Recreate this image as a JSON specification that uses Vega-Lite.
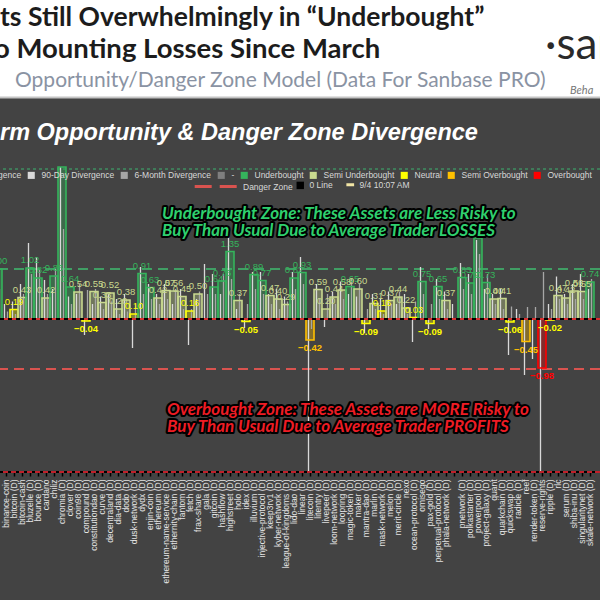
{
  "$schema": "https://vega.github.io/schema/vega-lite/v6.json",
  "width": 600,
  "height": 502,
  "autosize": {"type": "none"},
  "padding": {"top": 98, "left": 0, "right": 0, "bottom": 0},
  "background": "#ffffff",
  "config": {"view": {"fill": "#434343", "stroke": null}, "text": {"font": "Liberation Sans"}},
  "datasets": {
    "assets": [
      {"asset": "-", "v30": 1.00, "zone": "Underbought", "d90": 1.2, "m6": 0.6},
      {"asset": "binance-coin", "v30": null, "zone": null, "d90": 0.3, "m6": 0.15},
      {"asset": "bitcoin (D)", "v30": 0.19, "zone": "Neutral", "d90": 0.35, "m6": 0.1},
      {"asset": "bitcoin-cash", "v30": 0.43, "zone": "Semi Underbought", "d90": 0.7, "m6": 0.5},
      {"asset": "bluzelle (D)", "v30": 1.02, "zone": "Underbought", "d90": 1.52, "m6": 0.9},
      {"asset": "bounce (D)", "v30": 0.82, "zone": "Underbought", "d90": 1.24, "m6": 0.98},
      {"asset": "cardano", "v30": 0.42, "zone": "Semi Underbought", "d90": 0.78, "m6": 0.5},
      {"asset": "chiliz", "v30": 0.86, "zone": "Underbought", "d90": 0.6, "m6": 1.0},
      {"asset": "chromia (D)", "v30": 3.04, "zone": "Underbought", "d90": 3.04, "m6": 1.8},
      {"asset": "clover (D)", "v30": 0.64, "zone": "Underbought", "d90": 0.45, "m6": 0.3},
      {"asset": "coin98 (D)", "v30": 0.54, "zone": "Semi Underbought", "d90": 0.5, "m6": 0.7},
      {"asset": "compound (D)", "v30": -0.04, "zone": "Neutral", "d90": -0.32, "m6": 0.58},
      {"asset": "constitutiondao (D)", "v30": 0.55, "zone": "Semi Underbought", "d90": 0.3, "m6": 0.6},
      {"asset": "curve (D)", "v30": 0.33, "zone": "Semi Underbought", "d90": 0.45, "m6": 0.2},
      {"asset": "decentraland (D)", "v30": 0.52, "zone": "Semi Underbought", "d90": 0.5, "m6": 0.35},
      {"asset": "dia-data (D)", "v30": 0.20, "zone": "Semi Underbought", "d90": 0.4, "m6": 0.1},
      {"asset": "dodo (D)", "v30": 0.38, "zone": "Semi Underbought", "d90": 0.5, "m6": 0.15},
      {"asset": "dusk-network (D)", "v30": 0.10, "zone": "Neutral", "d90": -0.58, "m6": 0.3},
      {"asset": "dydx (D)", "v30": 0.91, "zone": "Underbought", "d90": 1.04, "m6": 0.5},
      {"asset": "enjin-coin (D)", "v30": 0.63, "zone": "Underbought", "d90": 0.7, "m6": 0.4},
      {"asset": "ethereum (D)", "v30": 0.42, "zone": "Semi Underbought", "d90": 0.5, "m6": 0.3},
      {"asset": "ethereum-name-service (D)", "v30": 0.57, "zone": "Semi Underbought", "d90": 0.7, "m6": 0.4},
      {"asset": "ethernity-chain (D)", "v30": 0.56, "zone": "Semi Underbought", "d90": 0.3, "m6": 0.6},
      {"asset": "fantom (D)", "v30": 0.45, "zone": "Semi Underbought", "d90": 0.6, "m6": 0.2},
      {"asset": "fetch (D)", "v30": 0.16, "zone": "Neutral", "d90": -0.52, "m6": 0.2},
      {"asset": "frax-share (D)", "v30": 0.50, "zone": "Semi Underbought", "d90": 0.4, "m6": 0.55},
      {"asset": "gala (D)", "v30": null, "zone": null, "d90": 1.1, "m6": 0.5},
      {"asset": "gitcoin (D)", "v30": 0.64, "zone": "Underbought", "d90": 0.9, "m6": 0.5},
      {"asset": "hashflow (D)", "v30": 0.76, "zone": "Underbought", "d90": 0.5, "m6": 0.9},
      {"asset": "highstreet (D)", "v30": 1.35, "zone": "Underbought", "d90": 1.84, "m6": 0.8},
      {"asset": "holo (D)", "v30": 0.37, "zone": "Semi Underbought", "d90": 0.2, "m6": 0.5},
      {"asset": "idex (D)", "v30": -0.05, "zone": "Neutral", "d90": -0.18, "m6": 0.3},
      {"asset": "illuvium (D)", "v30": 0.89, "zone": "Underbought", "d90": 0.94, "m6": 0.6},
      {"asset": "injective-protocol (D)", "v30": 0.77, "zone": "Underbought", "d90": 0.94, "m6": 0.5},
      {"asset": "keep3rv1 (D)", "v30": 0.47, "zone": "Semi Underbought", "d90": 0.5, "m6": 0.3},
      {"asset": "kyber-network (D)", "v30": 0.40, "zone": "Semi Underbought", "d90": 0.6, "m6": 0.2},
      {"asset": "league-of-kingdoms (D)", "v30": 0.29, "zone": "Semi Underbought", "d90": 0.45, "m6": 0.35},
      {"asset": "lido-dao (D)", "v30": 0.82, "zone": "Underbought", "d90": 0.94, "m6": 0.6},
      {"asset": "linear (D)", "v30": 0.93, "zone": "Underbought", "d90": 1.24, "m6": 0.7},
      {"asset": "litecoin (D)", "v30": -0.42, "zone": "Semi Overbought", "d90": -3.05, "m6": -0.2},
      {"asset": "litentry (D)", "v30": 0.59, "zone": "Semi Underbought", "d90": 0.7, "m6": 0.4},
      {"asset": "livepeer (D)", "v30": 0.20, "zone": "Semi Underbought", "d90": -0.16, "m6": 0.5},
      {"asset": "loom-network (D)", "v30": 0.44, "zone": "Semi Underbought", "d90": 0.55, "m6": 0.3},
      {"asset": "loopring (D)", "v30": 0.58, "zone": "Semi Underbought", "d90": 0.75, "m6": 0.4},
      {"asset": "magic-token (D)", "v30": 0.65, "zone": "Underbought", "d90": 0.5, "m6": 0.8},
      {"asset": "maker (D)", "v30": 0.60, "zone": "Semi Underbought", "d90": 0.45, "m6": 0.7},
      {"asset": "mantra-dao (D)", "v30": -0.09, "zone": "Neutral", "d90": -0.28, "m6": 0.2},
      {"asset": "marlin (D)", "v30": 0.31, "zone": "Semi Underbought", "d90": 0.5, "m6": 0.2},
      {"asset": "mask-network (D)", "v30": 0.16, "zone": "Neutral", "d90": 0.4, "m6": 0.1},
      {"asset": "melon (D)", "v30": 0.37, "zone": "Semi Underbought", "d90": 0.55, "m6": 0.3},
      {"asset": "merit-circle (D)", "v30": 0.44, "zone": "Semi Underbought", "d90": 0.3, "m6": 0.55},
      {"asset": "nexo", "v30": 0.22, "zone": "Semi Underbought", "d90": 0.5, "m6": 0.1},
      {"asset": "ocean-protocol (D)", "v30": 0.03, "zone": "Neutral", "d90": -0.46, "m6": 0.35},
      {"asset": "omisego", "v30": 0.75, "zone": "Underbought", "d90": 1.04, "m6": 0.5},
      {"asset": "pax-gold (D)", "v30": -0.09, "zone": "Neutral", "d90": -0.2, "m6": 0.3},
      {"asset": "perpetual-protocol (D)", "v30": 0.65, "zone": "Underbought", "d90": 0.8, "m6": 0.4},
      {"asset": "phala-network (D)", "v30": 0.37, "zone": "Semi Underbought", "d90": 0.55, "m6": 0.2},
      {"asset": " ", "v30": null, "zone": null, "d90": 0.3, "m6": null},
      {"asset": "pnetwork (D)", "v30": 0.83, "zone": "Underbought", "d90": 1.12, "m6": 0.6},
      {"asset": "polkastarter (D)", "v30": 0.72, "zone": "Underbought", "d90": 0.9, "m6": 0.5},
      {"asset": "powerpool (D)", "v30": 1.62, "zone": "Underbought", "d90": 1.58, "m6": 1.3},
      {"asset": "project-galaxy (D)", "v30": 0.73, "zone": "Underbought", "d90": 0.6, "m6": 0.9},
      {"asset": "quant", "v30": 0.40, "zone": "Semi Underbought", "d90": 0.5, "m6": 0.3},
      {"asset": "quarkchain (D)", "v30": 0.41, "zone": "Semi Underbought", "d90": 0.6, "m6": 0.2},
      {"asset": "quickswap (D)", "v30": -0.06, "zone": "Neutral", "d90": -0.72, "m6": 0.25},
      {"asset": "radicle (D)", "v30": null, "zone": null, "d90": 0.2, "m6": 0.1},
      {"asset": "reef", "v30": -0.45, "zone": "Semi Overbought", "d90": -1.12, "m6": 0.24},
      {"asset": "render-token (D)", "v30": null, "zone": null, "d90": -0.8, "m6": 0.24},
      {"asset": "reserve-rights", "v30": -0.98, "zone": "Overbought", "d90": -3.05, "m6": 0.94},
      {"asset": "ripple (D)", "v30": -0.02, "zone": "Neutral", "d90": 0.3, "m6": 0.2},
      {"asset": "rlc", "v30": 0.47, "zone": "Semi Underbought", "d90": 0.85, "m6": 0.4},
      {"asset": "serum (D)", "v30": 0.42, "zone": "Semi Underbought", "d90": 0.5, "m6": 0.3},
      {"asset": "shiba-inu (D)", "v30": 0.56, "zone": "Semi Underbought", "d90": 0.7, "m6": 0.4},
      {"asset": "singularitynet (D)", "v30": 0.55, "zone": "Semi Underbought", "d90": 0.9, "m6": 0.4},
      {"asset": "skale-network (D)", "v30": 0.74, "zone": "Underbought", "d90": 0.6, "m6": 0.8}
    ]
  },
  "data": {"name": "assets"},
  "layer": [
    {
      "data": {"values": [{}]},
      "mark": {"type": "rule", "color": "#3cb371", "strokeDash": [3, 3], "strokeWidth": 1},
      "encoding": {"y": {"datum": 3.0, "type": "quantitative", "scale": {"domain": [-5.62, 4.42], "nice": false, "zero": false}, "axis": null}}
    },
    {
      "data": {"values": [{}]},
      "mark": {"type": "rule", "color": "#3fae6a", "strokeDash": [10, 6], "strokeWidth": 2, "opacity": 0.85},
      "encoding": {"y": {"datum": 1.0, "type": "quantitative"}}
    },
    {
      "data": {"values": [{}]},
      "mark": {"type": "rule", "strokeDash": [10, 6], "strokeWidth": 2},
      "encoding": {
        "y": {"datum": -1.0, "type": "quantitative"},
        "stroke": {
          "datum": "Danger Zone",
          "type": "nominal",
          "scale": {"domain": ["Danger Zone"], "range": ["#d9534f"]},
          "legend": {
            "orient": "none", "legendX": 193, "legendY": 65, "direction": "horizontal", "title": null,
            "symbolType": "stroke", "symbolSize": 1900, "symbolStrokeWidth": 3, "symbolDash": [17, 8], "symbolOpacity": 1,
            "labelFontSize": 8.5, "labelColor": "#d8d8d8", "labelFont": "Liberation Sans",
            "labelOffset": 3, "padding": 0
          }
        }
      }
    },
    {
      "transform": [{"filter": "datum.v30 != null"}],
      "mark": {"type": "bar", "fillOpacity": 0.35, "strokeWidth": 0},
      "encoding": {
        "x": {
          "field": "asset", "type": "nominal",
          "scale": {
            "domain": ["-", "binance-coin", "bitcoin (D)", "bitcoin-cash", "bluzelle (D)", "bounce (D)", "cardano", "chiliz", "chromia (D)", "clover (D)", "coin98 (D)", "compound (D)", "constitutiondao (D)", "curve (D)", "decentraland (D)", "dia-data (D)", "dodo (D)", "dusk-network (D)", "dydx (D)", "enjin-coin (D)", "ethereum (D)", "ethereum-name-service (D)", "ethernity-chain (D)", "fantom (D)", "fetch (D)", "frax-share (D)", "gala (D)", "gitcoin (D)", "hashflow (D)", "highstreet (D)", "holo (D)", "idex (D)", "illuvium (D)", "injective-protocol (D)", "keep3rv1 (D)", "kyber-network (D)", "league-of-kingdoms (D)", "lido-dao (D)", "linear (D)", "litecoin (D)", "litentry (D)", "livepeer (D)", "loom-network (D)", "loopring (D)", "magic-token (D)", "maker (D)", "mantra-dao (D)", "marlin (D)", "mask-network (D)", "melon (D)", "merit-circle (D)", "nexo", "ocean-protocol (D)", "omisego", "pax-gold (D)", "perpetual-protocol (D)", "phala-network (D)", " ", "pnetwork (D)", "polkastarter (D)", "powerpool (D)", "project-galaxy (D)", "quant", "quarkchain (D)", "quickswap (D)", "radicle (D)", "reef", "render-token (D)", "reserve-rights", "ripple (D)", "rlc", "serum (D)", "shiba-inu (D)", "singularitynet (D)", "skale-network (D)"],
            "range": [-6, 594], "paddingInner": 0, "paddingOuter": 0
          },
          "axis": {
            "title": null, "orient": "bottom", "offset": -128, "labelAngle": -90, "labelFontSize": 8.5,
            "labelFont": "Liberation Sans", "labelColor": "#e4e4e4", "labelPadding": 3, "labelOverlap": false,
            "labelBound": false, "labelLimit": 200, "domain": false, "tickColor": "#000000", "tickSize": 4, "tickWidth": 1.5, "grid": false
          }
        },
        "y": {"field": "v30", "type": "quantitative"},
        "y2": {"datum": 0},
        "color": {
          "field": "zone", "type": "nominal",
          "scale": {
            "domain": ["30-Day Divergence", "90-Day Divergence", "6-Month Divergence", "-", "Underbought", "Semi Underbought", "Neutral", "Semi Overbought", "Overbought"],
            "range": ["#c9c9c9", "#d9d9d9", "#a6a6a6", "#7f7f7f", "#35b45c", "#c9d98f", "#ffff00", "#ffc000", "#ff0000"]
          },
          "legend": {
            "orient": "none", "legendX": -66, "legendY": 73, "direction": "horizontal", "title": null,
            "symbolType": "square", "symbolSize": 50, "symbolStrokeWidth": 0, "symbolOpacity": 1,
            "labelFontSize": 8.5, "labelColor": "#d8d8d8", "labelFont": "Liberation Sans",
            "columnPadding": 5, "labelOffset": 6, "padding": 0,
            "encode": {"symbols": {"update": {"fill": {"scale": "color", "field": "value"}, "fillOpacity": {"value": 1}, "opacity": {"value": 1}}}}
          }
        }
      }
    },
    {
      "transform": [{"filter": "datum.d90 != null"}],
      "mark": {"type": "rule", "strokeWidth": 1.3, "xOffset": -1.5},
      "encoding": {
        "x": {"field": "asset", "type": "nominal"},
        "y": {"field": "d90", "type": "quantitative"},
        "y2": {"datum": 0},
        "color": {"datum": "90-Day Divergence"}
      }
    },
    {
      "transform": [{"filter": "datum.m6 != null"}],
      "mark": {"type": "rule", "strokeWidth": 1.3, "xOffset": 1.5},
      "encoding": {
        "x": {"field": "asset", "type": "nominal"},
        "y": {"field": "m6", "type": "quantitative"},
        "y2": {"datum": 0},
        "color": {"datum": "6-Month Divergence"}
      }
    },
    {
      "transform": [{"filter": "datum.v30 != null"}],
      "mark": {"type": "bar", "filled": false, "strokeWidth": 1.6},
      "encoding": {
        "x": {"field": "asset", "type": "nominal"},
        "y": {"field": "v30", "type": "quantitative"},
        "y2": {"datum": 0},
        "color": {"field": "zone", "type": "nominal"}
      }
    },
    {
      "data": {"values": [{}]},
      "mark": {"type": "rule", "strokeWidth": 2, "color": "#000000"},
      "encoding": {
        "y": {"datum": 0, "type": "quantitative"},
        "strokeDash": {
          "datum": "0 Line", "type": "nominal",
          "scale": {"domain": ["0 Line", "9/4 10:07 AM"], "range": [[1, 0], [1, 0]]},
          "legend": {
            "orient": "none", "legendX": 296, "legendY": 82, "direction": "horizontal", "title": null,
            "symbolType": "stroke", "symbolSize": 60, "symbolOpacity": 1, "symbolStrokeColor": "#f2e6a6",
            "labelFontSize": 8.5, "labelColor": "#d8d8d8", "labelFont": "Liberation Sans",
            "columnPadding": 7, "labelOffset": 5, "padding": 0,
            "encode": {"symbols": {"update": {
              "shape": {"signal": "datum.value === '0 Line' ? 'square' : 'stroke'"},
              "size": {"signal": "datum.value === '0 Line' ? 55 : 60"},
              "strokeWidth": {"signal": "datum.value === '0 Line' ? 0 : 3"},
              "stroke": {"signal": "datum.value === '0 Line' ? '#000000' : '#f2e6a6'"},
              "fill": {"signal": "datum.value === '0 Line' ? '#000000' : 'transparent'"},
              "opacity": {"value": 1}
            }}}
          }
        }
      }
    },
    {
      "data": {"values": [{}]},
      "mark": {"type": "rule", "strokeWidth": 2, "color": "#d93030", "strokeDash": [4, 4]},
      "encoding": {"y": {"datum": 0, "type": "quantitative"}}
    },
    {
      "data": {"values": [{}]},
      "mark": {"type": "rule", "strokeWidth": 2, "color": "#000000"},
      "encoding": {"y": {"datum": -3.06, "type": "quantitative"}}
    },
    {
      "data": {"values": [{}]},
      "mark": {"type": "rule", "strokeWidth": 2, "color": "#c0202a", "strokeDash": [5, 3]},
      "encoding": {"y": {"datum": -3.06, "type": "quantitative"}}
    },
    {
      "transform": [{"filter": "datum.v30 != null && datum.v30 >= 0 && datum.v30 < 3"}],
      "mark": {"type": "text", "baseline": "bottom", "dy": -3, "fontSize": 9.5},
      "encoding": {
        "x": {"field": "asset", "type": "nominal"},
        "y": {"field": "v30", "type": "quantitative"},
        "text": {"field": "v30", "type": "quantitative", "format": ".2f"},
        "color": {"field": "zone", "type": "nominal"}
      }
    },
    {
      "transform": [{"filter": "datum.v30 != null && datum.v30 < 0"}],
      "mark": {"type": "text", "baseline": "top", "dy": 3, "fontSize": 9.5, "fontWeight": "bold"},
      "encoding": {
        "x": {"field": "asset", "type": "nominal"},
        "y": {"field": "v30", "type": "quantitative"},
        "text": {"field": "v30", "type": "quantitative", "format": ".2f"},
        "color": {"field": "zone", "type": "nominal"}
      }
    },
    {
      "data": {"values": [{}]},
      "mark": {"type": "text", "align": "left", "baseline": "middle", "dx": 4, "font": "Lato", "fontSize": 17, "fontWeight": "bold", "fontStyle": "italic", "lineHeight": 17, "fill": "#000000", "stroke": "#000000", "strokeWidth": 4, "strokeJoin": "round"},
      "encoding": {
        "x": {"datum": "ethereum (D)"},
        "y": {"datum": 2.11, "type": "quantitative"},
        "text": {"value": ["Underbought Zone: These Assets are Less Risky to", "Buy Than Usual Due to Average Trader LOSSES"]}
      }
    },
    {
      "data": {"values": [{}]},
      "mark": {"type": "text", "align": "left", "baseline": "middle", "dx": 4, "font": "Lato", "fontSize": 17, "fontWeight": "bold", "fontStyle": "italic", "lineHeight": 17, "fill": "#2fd06e"},
      "encoding": {
        "x": {"datum": "ethereum (D)"},
        "y": {"datum": 2.11, "type": "quantitative"},
        "text": {"value": ["Underbought Zone: These Assets are Less Risky to", "Buy Than Usual Due to Average Trader LOSSES"]}
      }
    },
    {
      "data": {"values": [{}]},
      "mark": {"type": "text", "align": "left", "baseline": "middle", "dx": 9, "font": "Lato", "fontSize": 17, "fontWeight": "bold", "fontStyle": "italic", "lineHeight": 17, "fill": "#000000", "stroke": "#000000", "strokeWidth": 4, "strokeJoin": "round"},
      "encoding": {
        "x": {"datum": "ethereum (D)"},
        "y": {"datum": -1.81, "type": "quantitative"},
        "text": {"value": ["Overbought Zone: These Assets are MORE Risky to", "Buy Than Usual Due to Average Trader PROFITS"]}
      }
    },
    {
      "data": {"values": [{}]},
      "mark": {"type": "text", "align": "left", "baseline": "middle", "dx": 9, "font": "Lato", "fontSize": 17, "fontWeight": "bold", "fontStyle": "italic", "lineHeight": 17, "fill": "#ee1c24"},
      "encoding": {
        "x": {"datum": "ethereum (D)"},
        "y": {"datum": -1.81, "type": "quantitative"},
        "text": {"value": ["Overbought Zone: These Assets are MORE Risky to", "Buy Than Usual Due to Average Trader PROFITS"]}
      }
    },
    {
      "data": {"values": [{}]},
      "mark": {"type": "text", "align": "left", "baseline": "middle", "dx": 2, "font": "Liberation Sans", "fontSize": 23.5, "fontWeight": "bold", "fontStyle": "italic", "fill": "#ffffff"},
      "encoding": {
        "x": {"datum": "-"},
        "y": {"datum": 3.72, "type": "quantitative"},
        "text": {"value": "rm Opportunity & Danger Zone Divergence"}
      }
    },
    {
      "data": {"values": [{}]},
      "mark": {"type": "rule", "strokeWidth": 2, "color": "#c4c4c4"},
      "encoding": {"y": {"datum": 4.43, "type": "quantitative"}}
    },
    {
      "data": {"values": [{}]},
      "mark": {"type": "text", "align": "left", "baseline": "middle", "dx": 2, "font": "Lato", "fontSize": 26.5, "fontWeight": "bold", "fill": "#1c1c1c"},
      "encoding": {
        "x": {"datum": "-"},
        "y": {"datum": 6.02, "type": "quantitative"},
        "text": {"value": "ts Still Overwhelmingly in “Underbought”"}
      }
    },
    {
      "data": {"values": [{}]},
      "mark": {"type": "text", "align": "left", "baseline": "middle", "dx": -4, "font": "Lato", "fontSize": 27.5, "fontWeight": "bold", "fill": "#1c1c1c"},
      "encoding": {
        "x": {"datum": "-"},
        "y": {"datum": 5.38, "type": "quantitative"},
        "text": {"value": "o Mounting Losses Since March"}
      }
    },
    {
      "data": {"values": [{}]},
      "mark": {"type": "text", "align": "left", "baseline": "middle", "dx": 17, "font": "Lato", "fontSize": 21, "fill": "#8a93a3"},
      "encoding": {
        "x": {"datum": "-"},
        "y": {"datum": 4.76, "type": "quantitative"},
        "text": {"value": "Opportunity/Danger Zone Model (Data For Sanbase PRO)"}
      }
    },
    {
      "data": {"values": [{}]},
      "mark": {"type": "text", "align": "left", "baseline": "middle", "dx": -45, "font": "Lato", "fontSize": 44, "fill": "#2a2a2a"},
      "encoding": {
        "x": {"datum": "skale-network (D)"},
        "y": {"datum": 5.46, "type": "quantitative"},
        "text": {"value": "·san"}
      }
    },
    {
      "data": {"values": [{}]},
      "mark": {"type": "text", "align": "left", "baseline": "middle", "dx": -20, "font": "Lato", "fontSize": 11, "fontStyle": "italic", "fill": "#777777"},
      "encoding": {
        "x": {"datum": "skale-network (D)"},
        "y": {"datum": 4.56, "type": "quantitative"},
        "text": {"value": "Beha"}
      }
    }
  ]
}
